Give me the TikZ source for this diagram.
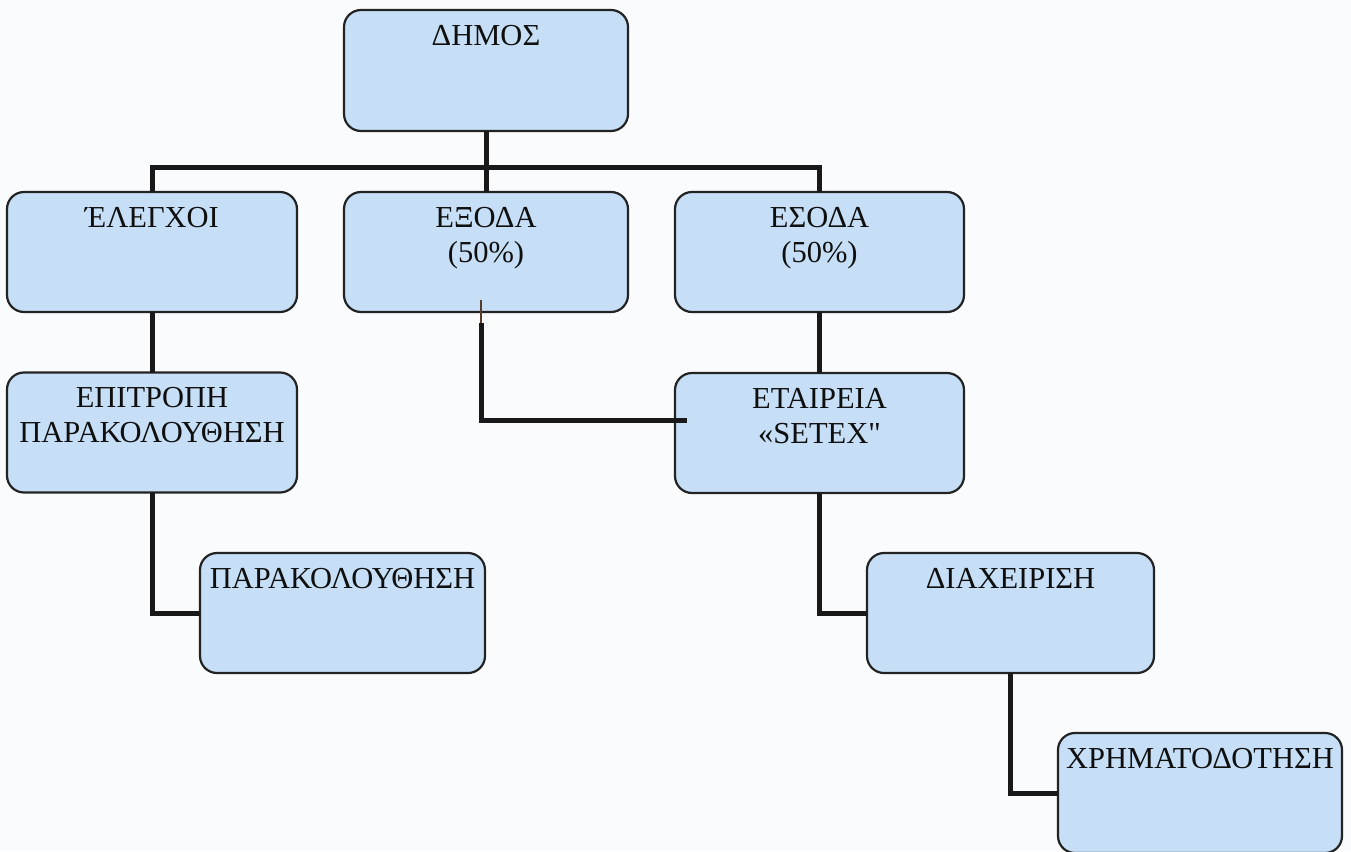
\documentclass[tikz,border=0pt]{standalone}
\usepackage{fontspec}
\setmainfont{Liberation Serif}
\newfontfamily\qfont{Liberation Serif}[Ligatures=TeXOff]
\usetikzlibrary{calc}
\definecolor{boxfill}{RGB}{198,223,246}
\definecolor{boxline}{RGB}{35,35,35}
\definecolor{bgcol}{RGB}{249,251,253}
\definecolor{txtcol}{RGB}{15,15,15}
\definecolor{thincol}{RGB}{90,60,40}
\tikzset{
  orgbox/.style={draw=boxline, line width=2.2pt, fill=boxfill, rounded corners=17pt,
     inner sep=0pt, outer sep=0pt, minimum width=#1, minimum height=120pt},
  orgbox/.default=285pt,
  lbl/.style={anchor=north, inner sep=0pt, yshift=-15pt, align=center,
     font=\fontsize{30.5}{35}\selectfont, text=txtcol},
  conn/.style={line width=5pt, draw=black!90},
  thinconn/.style={line width=1.5pt, draw=thincol},
}
\begin{document}
\begin{tikzpicture}[x=1pt,y=-1pt]
\fill[bgcol] (0,0) rectangle (1351,851);
\useasboundingbox (0,0) rectangle (1351,851);
\coordinate (bus) at (0,167);
% connectors under boxes
\draw[conn] (486,131) -- (486,192);
\node[orgbox=284pt, minimum height=121pt, label={[lbl]north:ΔΗΜΟΣ}] (dimos) at (486,70.5) {};
\node[orgbox=290pt, label={[lbl]north:ΈΛΕΓΧΟΙ}] (elegxoi) at (152,252) {};
\node[orgbox=284pt, label={[lbl]north:ΕΞΟΔΑ\\(50\%)}] (exoda) at (486,252) {};
\node[orgbox=289pt, label={[lbl]north:ΕΣΟΔΑ\\(50\%)}] (esoda) at (819.5,252) {};
\node[orgbox=290pt, label={[lbl]north:ΕΠΙΤΡΟΠΗ\\ΠΑΡΑΚΟΛΟΥΘΗΣΗ}] (epitropi) at (152,432.5) {};
\node[orgbox=289pt, label={[lbl]north:ΕΤΑΙΡΕΙΑ\\«SETEX{\qfont"}}] (etaireia) at (819.5,433) {};
\node[orgbox=285pt, label={[lbl]north:ΠΑΡΑΚΟΛΟΥΘΗΣΗ}] (parak) at (342.5,613) {};
\node[orgbox=287pt, label={[lbl]north:ΔΙΑΧΕΙΡΙΣΗ}] (diax) at (1010.5,613) {};
\node[orgbox=284pt, label={[lbl]north:ΧΡΗΜΑΤΟΔΟΤΗΣΗ}] (xrim) at (1200,793) {};
% connectors
\draw[conn] (dimos.south) -- (exoda.north);
\draw[conn] (elegxoi.north) -- (elegxoi.north |- bus) -- (esoda.north |- bus) -- (esoda.north);
\draw[conn] (elegxoi.south) -- (epitropi.north);
\draw[conn] (epitropi.south) |- (parak.west);
\draw[conn] (esoda.south) -- (etaireia.north);
\coordinate (exin) at ($(exoda.south)+(-5,-12)$);
\coordinate (exout) at ($(exoda.south)+(-5,11)$);
\coordinate (etin) at ($(etaireia.west)+(12,-13)$);
\draw[thinconn] (exin) -- (exout);
\draw[conn] (exout) |- (etin);
\draw[conn] (etaireia.south) |- (diax.west);
\draw[conn] (diax.south) |- (xrim.west);
\end{tikzpicture}
\end{document}
